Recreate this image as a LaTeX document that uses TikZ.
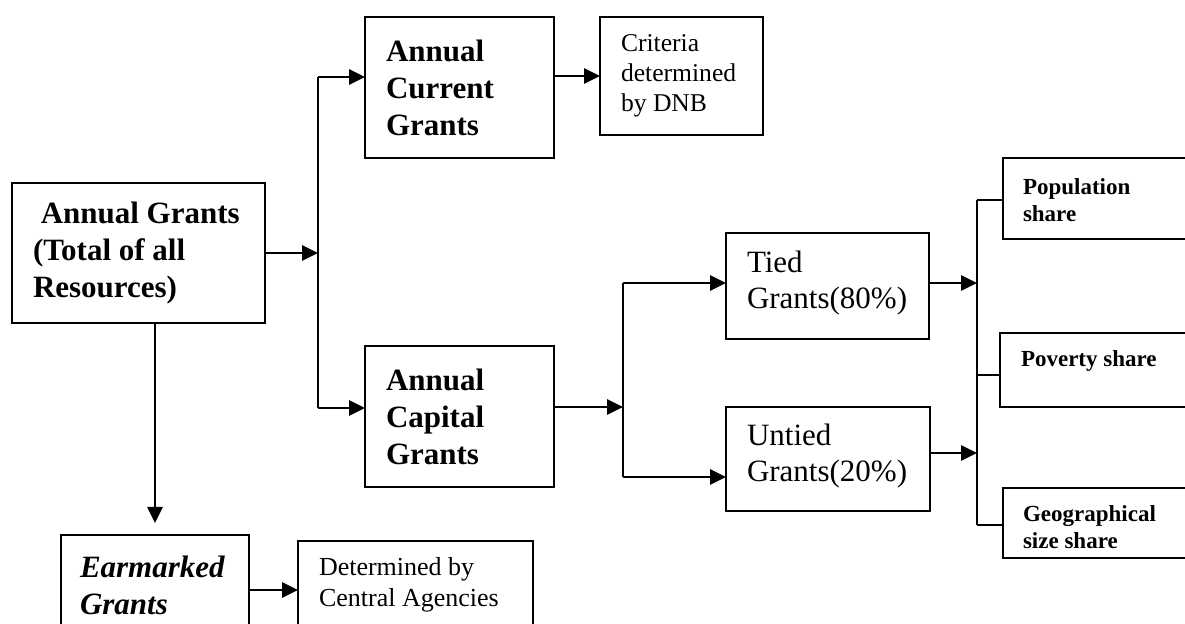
\documentclass[tikz,border=0pt]{standalone}
\usepackage{fontspec}
\setmainfont{Liberation Serif}
\usetikzlibrary{arrows.meta,calc}
\begin{document}
\begin{tikzpicture}[x=0.5pt,y=-0.5pt,
  box/.style={draw, line width=1.2pt, inner sep=0pt, outer sep=0pt, anchor=north west},
  lbl/.style={anchor=west, align=left, inner sep=0pt, outer sep=0pt},
  head/.style={font=\fontsize{15.5}{18.5}\selectfont\bfseries},
  headit/.style={font=\fontsize{15.5}{18.5}\selectfont\bfseries\itshape},
  share/.style={font=\fontsize{11.5}{13.5}\selectfont\bfseries},
  note/.style={font=\fontsize{12.8}{15}\selectfont},
  plain/.style={font=\fontsize{15.5}{18}\selectfont},
  link/.style={line width=1.2pt},
  arr/.style={link, -{Triangle[length=8pt,width=7.6pt]}}]
\useasboundingbox (0,0) rectangle (1185,624);
\clip (0,0) rectangle (1185,624);

% boxes
\node[box, minimum width=126.5pt, minimum height=70pt]   (ag)     at (12,183)  {};
\node[box, minimum width=94.5pt,  minimum height=70.5pt] (cur)    at (365,17)  {};
\node[box, minimum width=81.5pt,  minimum height=59pt]   (crit)   at (600,17)  {};
\node[box, minimum width=94.5pt,  minimum height=70.5pt] (cap)    at (365,346) {};
\node[box, minimum width=101.5pt, minimum height=53pt]   (tied)   at (726,233) {};
\node[box, minimum width=102pt,   minimum height=52pt]   (untied) at (726,407) {};
\node[box, minimum width=130pt,   minimum height=40.5pt] (pop)    at (1003,158) {};
\node[box, minimum width=130pt,   minimum height=37pt]   (pov)    at (1000,333) {};
\node[box, minimum width=130pt,   minimum height=35pt]   (geo)    at (1003,488) {};
\node[box, minimum width=94pt,    minimum height=50pt]   (ear)    at (61,535)  {};
\node[box, minimum width=117.5pt, minimum height=44pt]   (det)    at (298,541) {};

% labels
\node[lbl, head]   (agT)     at ($(ag.west)+(21,0)$)     {\hspace*{0.25em}Annual Grants\\(Total of all\\Resources)};
\node[lbl, head]   (curT)    at ($(cur.west)+(21,0)$)    {Annual\\Current\\Grants};
\node[lbl, note]   (critT)   at ($(crit.west)+(21,0)$)   {Criteria\\determined\\by DNB};
\node[lbl, head]   (capT)    at ($(cap.west)+(21,0)$)    {Annual\\Capital\\Grants};
\node[lbl, plain]  (tiedT)   at ($(tied.west)+(21,-3)$)  {Tied\\Grants(80\%)};
\node[lbl, plain]  (untiedT) at ($(untied.west)+(21,-3)$) {Untied\\Grants(20\%)};
\node[lbl, share]  (popT)    at ($(pop.west)+(20,2)$)    {Population\\share};
\node[lbl, share]  (povT)    at ($(pov.west)+(21,-9)$)   {Poverty share};
\node[lbl, share]  (geoT)    at ($(geo.west)+(20,4)$)    {Geographical\\size share};
\node[lbl, headit] (earT)    at ($(ear.west)+(19,0)$)    {Earmarked\\Grants};
\node[lbl, note, font=\fontsize{13}{15.5}\selectfont] (detT) at ($(det.west)+(21,0)$) {Determined by\\Central Agencies};

% junction points
\coordinate (j1) at (318,253);
\coordinate (j1t) at (318,77);
\coordinate (j1b) at (318,408);
\coordinate (j2) at (623,407);
\coordinate (j2t) at (623,283);
\coordinate (j2b) at (623,477);
\coordinate (j3t) at (977,200);
\coordinate (j3a) at (977,283);
\coordinate (j3m) at (977,375);
\coordinate (j3b) at (977,453);
\coordinate (j3e) at (977,525);
\coordinate (d1) at (155,523);

% connectors
\draw[arr] (ag.east |- j1) -- (j1);
\draw[link] (j1t) -- (j1b);
\draw[arr] (j1t) -- (j1t -| cur.west);
\draw[arr] (j1b) -- (j1b -| cap.west);
\draw[arr] (crit.west -| cur.east) -- (crit.west);

\draw[arr] (cap.east |- j2) -- (j2);
\draw[link] (j2t) -- (j2b);
\draw[arr] (j2t) -- (j2t -| tied.west);
\draw[arr] (j2b) -- (j2b -| untied.west);

\draw[arr] (tied.east |- j3a) -- (j3a);
\draw[arr] (untied.east |- j3b) -- (j3b);
\draw[link] (j3t) -- (j3e);
\draw[link] (j3t) -- (j3t -| pop.west);
\draw[link] (j3m) -- (j3m -| pov.west);
\draw[link] (j3e) -- (j3e -| geo.west);

\draw[arr] (ag.south -| d1) -- (d1);
\draw[arr] ($(ear.east)+(0,5)$) -- ($(det.west)+(0,5)$);
\end{tikzpicture}
\end{document}
